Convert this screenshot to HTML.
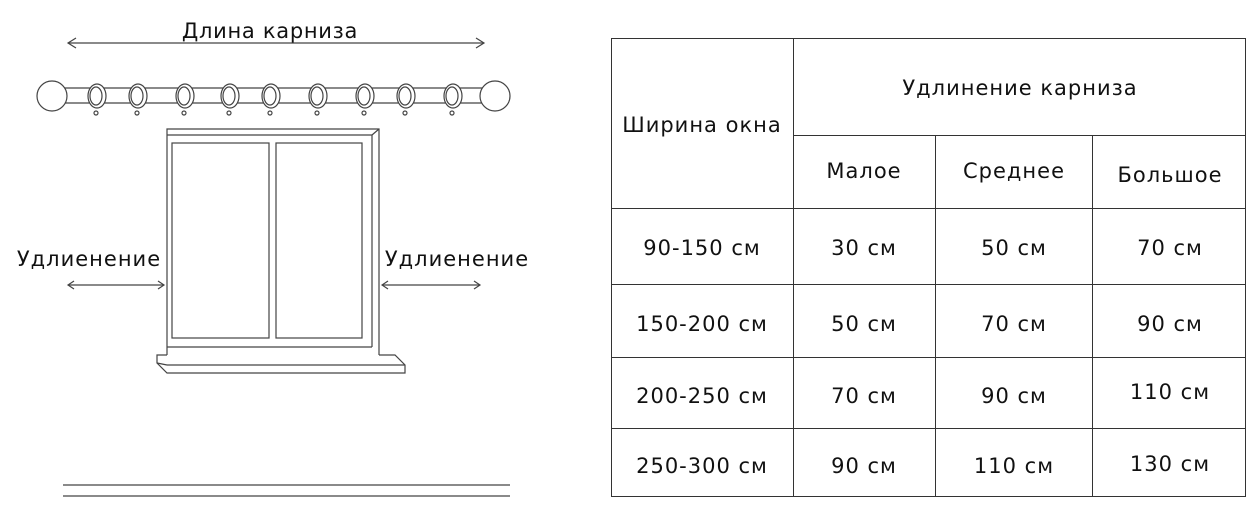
<!DOCTYPE html>
<html><head><meta charset="utf-8"><style>
body{margin:0;background:#fff;width:1250px;height:513px;overflow:hidden}
svg text{font-family:"DejaVu Sans","Liberation Sans",sans-serif;fill:#111}
</style></head><body>
<svg width="1250" height="513" viewBox="0 0 1250 513" xmlns="http://www.w3.org/2000/svg">
<g stroke="#444" stroke-width="1.2" fill="none">
<line x1="68" y1="43" x2="484" y2="43"/>
<polyline points="76,38 68,43 76,48"/><polyline points="476,38 484,43 476,48"/>
<line x1="52" y1="88" x2="495" y2="88"/><line x1="52" y1="103" x2="495" y2="103"/>
<circle cx="52" cy="96" r="15" fill="#fff"/><circle cx="495" cy="96" r="15" fill="#fff"/>
<g fill="#fff">
<ellipse cx="97" cy="96" rx="9" ry="12"/><ellipse cx="138" cy="96" rx="9" ry="12"/><ellipse cx="185" cy="96" rx="9" ry="12"/><ellipse cx="230" cy="96" rx="9" ry="12"/><ellipse cx="271" cy="96" rx="9" ry="12"/><ellipse cx="318" cy="96" rx="9" ry="12"/><ellipse cx="365" cy="96" rx="9" ry="12"/><ellipse cx="406" cy="96" rx="9" ry="12"/><ellipse cx="453" cy="96" rx="9" ry="12"/>
</g>
<g>
<ellipse cx="96" cy="96" rx="6" ry="9"/><ellipse cx="137" cy="96" rx="6" ry="9"/><ellipse cx="184" cy="96" rx="6" ry="9"/><ellipse cx="229" cy="96" rx="6" ry="9"/><ellipse cx="270" cy="96" rx="6" ry="9"/><ellipse cx="317" cy="96" rx="6" ry="9"/><ellipse cx="364" cy="96" rx="6" ry="9"/><ellipse cx="405" cy="96" rx="6" ry="9"/><ellipse cx="452" cy="96" rx="6" ry="9"/>
<circle cx="96" cy="113" r="2"/><circle cx="137" cy="113" r="2"/><circle cx="184" cy="113" r="2"/><circle cx="229" cy="113" r="2"/><circle cx="270" cy="113" r="2"/><circle cx="317" cy="113" r="2"/><circle cx="364" cy="113" r="2"/><circle cx="405" cy="113" r="2"/><circle cx="452" cy="113" r="2"/>
</g>
<polyline points="167,355 167,129 379,129 379,355"/>
<line x1="167" y1="135" x2="372" y2="135"/><line x1="372" y1="135" x2="379" y2="129"/>
<line x1="372" y1="135" x2="372" y2="347"/>
<line x1="167" y1="347" x2="372" y2="347"/>
<rect x="172" y="143" width="97" height="195"/><rect x="276" y="143" width="86" height="195"/>
<polyline points="167,355 157,355 157,363 167,373 405,373 405,365 395,355 379,355"/>
<line x1="167" y1="365" x2="405" y2="365"/><line x1="157" y1="363" x2="167" y2="365"/>
<line x1="68" y1="285" x2="164" y2="285"/><polyline points="74,281 68,285 74,289"/><polyline points="158,281 164,285 158,289"/>
<line x1="382" y1="285" x2="480" y2="285"/><polyline points="388,281 382,285 388,289"/><polyline points="474,281 480,285 474,289"/>
<line x1="63" y1="485" x2="510" y2="485"/><line x1="63" y1="496" x2="510" y2="496"/>
</g>
<text x="270" y="38" font-size="21" letter-spacing="0.7" text-anchor="middle">Длина карниза</text>
<text x="89" y="266" font-size="21" letter-spacing="1" text-anchor="middle">Удлиенение</text>
<text x="457" y="266" font-size="21" letter-spacing="1" text-anchor="middle">Удлиенение</text>
<g stroke="#333" stroke-width="1" fill="none">
<rect x="611.5" y="38.5" width="634" height="458"/>
<line x1="793.5" y1="38" x2="793.5" y2="496"/>
<line x1="935.5" y1="135" x2="935.5" y2="496"/><line x1="1092.5" y1="135" x2="1092.5" y2="496"/>
<line x1="793" y1="135.5" x2="1246" y2="135.5"/>
<line x1="611" y1="208.5" x2="1246" y2="208.5"/><line x1="611" y1="284.5" x2="1246" y2="284.5"/>
<line x1="611" y1="357.5" x2="1246" y2="357.5"/><line x1="611" y1="428.5" x2="1246" y2="428.5"/>
</g>
<g font-size="21" letter-spacing="1" text-anchor="middle">
<text x="702" y="132">Ширина окна</text>
<text x="1020" y="95">Удлинение карниза</text>
<text x="864" y="178">Малое</text><text x="1014" y="178">Среднее</text><text x="1170" y="182">Большое</text>
<text x="702" y="255">90-150 см</text><text x="864" y="255">30 см</text><text x="1014" y="255">50 см</text><text x="1170" y="255">70 см</text>
<text x="702" y="331">150-200 см</text><text x="864" y="331">50 см</text><text x="1014" y="331">70 см</text><text x="1170" y="331">90 см</text>
<text x="702" y="403">200-250 см</text><text x="864" y="403">70 см</text><text x="1014" y="403">90 см</text><text x="1170" y="399">110 см</text>
<text x="702" y="473">250-300 см</text><text x="864" y="473">90 см</text><text x="1014" y="473">110 см</text><text x="1170" y="471">130 см</text>
</g>
</svg>
</body></html>
